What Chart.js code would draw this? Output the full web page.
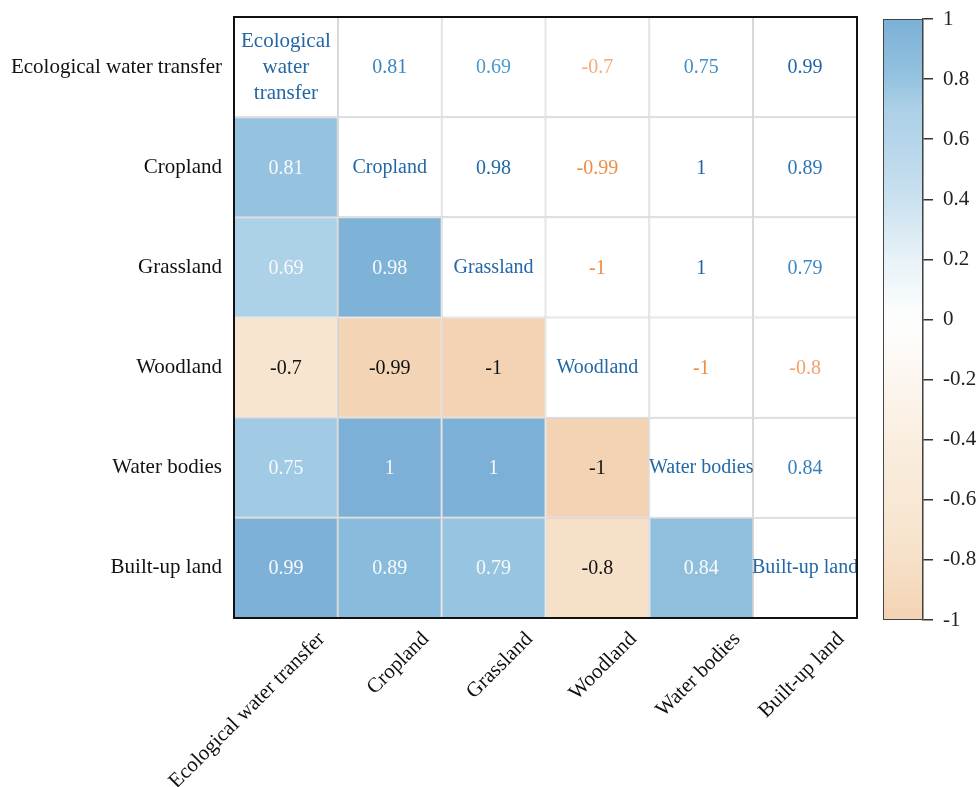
<!DOCTYPE html>
<html>
<head>
<meta charset="utf-8">
<script src="https://cdn.jsdelivr.net/npm/chart.js@4.4.1/dist/chart.umd.min.js"></script>
<style>
  html, body { margin: 0; padding: 0; background: #ffffff; }
  #wrap { position: relative; width: 978px; height: 787px; overflow: hidden; }
  #heat { position: absolute; left: 0; top: 0; }
  #bar { position: absolute; left: 860px; top: 0; }
</style>
</head>
<body>
<div id="wrap">
  <canvas id="heat" width="870" height="787"></canvas>
  <canvas id="bar" width="118" height="787"></canvas>
</div>
<script>
// Land-use categories (rows top to bottom, columns left to right)
const categories = ['Ecological water transfer', 'Cropland', 'Grassland', 'Woodland', 'Water bodies', 'Built-up land'];
// Names written on the diagonal, one entry per line
const diagonalLines = [['Ecological', 'water', 'transfer'], ['Cropland'], ['Grassland'], ['Woodland'], ['Water bodies'], ['Built-up land']];

// Correlation coefficients, one row per category
const rowEcoWater  = [1, 0.81, 0.69, -0.7, 0.75, 0.99];
const rowCropland  = [0.81, 1, 0.98, -0.99, 1, 0.89];
const rowGrassland = [0.69, 0.98, 1, -1, 1, 0.79];
const rowWoodland  = [-0.7, -0.99, -1, 1, -1, -0.8];
const rowWater     = [0.75, 1, 1, -1, 1, 0.84];
const rowBuiltUp   = [0.99, 0.89, 0.79, -0.8, 0.84, 1];
const matrix = [rowEcoWater, rowCropland, rowGrassland, rowWoodland, rowWater, rowBuiltUp];

// Colour bar tick values
const colorbarTicks = [-1, -0.8, -0.6, -0.4, -0.2, 0, 0.2, 0.4, 0.6, 0.8, 1];

// Diverging fill palette: orange for negative, blue for positive
const fillStops = [
  [-1, '#f3d3b3'], [-0.8, '#f6e0c8'], [-0.7, '#f7e5cf'], [-0.4, '#faeee0'], [-0.2, '#fcf6ef'],
  [0, '#fefefe'], [0.2, '#e8f2f8'], [0.4, '#cae1ef'], [0.6, '#b4d5ea'], [0.7, '#acd0e7'],
  [0.8, '#95c3e0'], [0.9, '#88badc'], [1, '#7cb0d6']
];
// Text palettes for the upper triangle
const blueTextStops = [[0.6, '#58a5d7'], [0.8, '#3a86c2'], [1, '#1f63a3']];
const orangeTextStops = [[-1, '#ee8c44'], [-0.8, '#f3a06a'], [-0.7, '#f5aa7b']];

function hexToRgb(h) {
  const n = parseInt(h.slice(1), 16);
  return [(n >> 16) & 255, (n >> 8) & 255, n & 255];
}
function interpolate(stops, v) {
  if (v <= stops[0][0]) return stops[0][1];
  if (v >= stops[stops.length - 1][0]) return stops[stops.length - 1][1];
  for (let k = 0; k < stops.length - 1; k++) {
    const [v0, c0] = stops[k], [v1, c1] = stops[k + 1];
    if (v >= v0 && v <= v1) {
      const t = (v - v0) / (v1 - v0);
      const a = hexToRgb(c0), b = hexToRgb(c1);
      const c = a.map((x, i) => Math.round(x + (b[i] - x) * t));
      return `rgb(${c[0]},${c[1]},${c[2]})`;
    }
  }
  return stops[0][1];
}

const SERIF = '"Liberation Serif", "Times New Roman", serif';
Chart.defaults.font.family = SERIF;
Chart.defaults.color = '#111111';

// Strip the automatic edge padding so the plot area sits exactly where the layout puts it
function noEdgePadding(scale) {
  scale.paddingTop = 0;
  scale.paddingBottom = 0;
  scale.paddingLeft = 0;
  scale.paddingRight = 0;
}

// One floating-bar dataset per row; each bar spans one row band on the y scale
const datasets = matrix.map((row, i) => ({
  label: categories[i],
  data: row.map(() => [i, i + 1]),
  backgroundColor: row.map((v, j) => (j < i ? interpolate(fillStops, v) : '#ffffff')),
  borderColor: '#c9c9c9',
  borderWidth: 1,
  borderSkipped: false,
  inflateAmount: 0,
  barPercentage: 1,
  categoryPercentage: 1,
  grouped: false
}));

// Writes the coefficient or the category name in each cell, then frames the plot
const cellText = {
  id: 'cellText',
  afterDatasetsDraw(chart) {
    const ctx = chart.ctx;
    ctx.save();
    ctx.textAlign = 'center';
    ctx.textBaseline = 'middle';
    chart.data.datasets.forEach((ds, i) => {
      chart.getDatasetMeta(i).data.forEach((el, j) => {
        const cx = el.x;
        const cy = (el.y + el.base) / 2;
        const v = matrix[i][j];
        if (i === j) {
          const lines = diagonalLines[i];
          const fs = lines.length > 1 ? 21 : 20;
          const lh = 26;
          ctx.font = `${fs}px ${SERIF}`;
          ctx.fillStyle = '#2467a6';
          lines.forEach((t, k) => ctx.fillText(t, cx, cy + (k - (lines.length - 1) / 2) * lh));
        } else {
          ctx.font = `20px ${SERIF}`;
          if (j < i) {
            ctx.fillStyle = v >= 0 ? '#f7fafc' : '#111111';
          } else {
            ctx.fillStyle = v >= 0 ? interpolate(blueTextStops, v) : interpolate(orangeTextStops, v);
          }
          ctx.fillText(String(v), cx, cy + 1);
        }
      });
    });
    const a = chart.chartArea;
    ctx.strokeStyle = '#111111';
    ctx.lineWidth = 2;
    ctx.strokeRect(a.left, a.top, a.right - a.left, a.bottom - a.top);
    ctx.restore();
  }
};

new Chart(document.getElementById('heat'), {
  type: 'bar',
  data: { labels: categories, datasets },
  options: {
    responsive: false,
    animation: false,
    devicePixelRatio: 1,
    events: [],
    layout: { padding: { left: 0, right: 13, top: 17, bottom: 0 } },
    plugins: { legend: { display: false }, tooltip: { enabled: false } },
    scales: {
      x: {
        type: 'category',
        offset: true,
        grid: { display: false, drawTicks: false },
        border: { display: false },
        ticks: {
          autoSkip: false,
          minRotation: 45,
          maxRotation: 45,
          labelOffset: 36,
          padding: 9,
          color: '#111111',
          font: { size: 21, family: SERIF }
        },
        afterFit(scale) { scale.height = 169; noEdgePadding(scale); }
      },
      y: {
        type: 'linear',
        min: 0,
        max: categories.length,
        reverse: true,
        grid: { display: false, drawTicks: false },
        border: { display: false },
        afterBuildTicks(scale) { scale.ticks = categories.map((c, i) => ({ value: i + 0.5 })); },
        ticks: {
          padding: 12,
          color: '#111111',
          font: { size: 21, family: SERIF },
          callback: (value, index) => categories[index]
        },
        afterFit(scale) { scale.width = 234; noEdgePadding(scale); }
      }
    }
  },
  plugins: [cellText]
});

// Colour bar: a single floating bar from -1 to 1 filled with the palette
new Chart(document.getElementById('bar'), {
  type: 'bar',
  data: {
    labels: [''],
    datasets: [{
      data: [[colorbarTicks[0], colorbarTicks[colorbarTicks.length - 1]]],
      backgroundColor(context) {
        const chart = context.chart;
        const ys = chart.scales.y;
        if (!chart.chartArea || !ys) return '#ffffff';
        const y0 = ys.getPixelForValue(-1), y1 = ys.getPixelForValue(1);
        const g = chart.ctx.createLinearGradient(0, y0, 0, y1);
        fillStops.forEach(([v, c]) => g.addColorStop((v + 1) / 2, c));
        return g;
      },
      borderColor: '#444444',
      borderWidth: 1,
      borderSkipped: false,
      inflateAmount: 0,
      barPercentage: 1,
      categoryPercentage: 1
    }]
  },
  options: {
    responsive: false,
    animation: false,
    devicePixelRatio: 1,
    events: [],
    layout: { padding: { left: 23, right: 0, top: 19, bottom: 167 } },
    plugins: { legend: { display: false }, tooltip: { enabled: false } },
    scales: {
      x: { display: false },
      y: {
        position: 'right',
        min: -1,
        max: 1,
        afterBuildTicks(scale) { scale.ticks = colorbarTicks.map(v => ({ value: v })); },
        grid: { display: true, drawOnChartArea: false, drawTicks: true, tickLength: 10, color: '#333333', lineWidth: 1.5 },
        border: { display: true, color: '#333333', width: 1.5 },
        ticks: {
          padding: 10,
          color: '#222222',
          font: { size: 21, family: SERIF },
          callback: v => String(v)
        },
        afterFit(scale) { scale.width = 55; noEdgePadding(scale); }
      }
    }
  }
});
</script>
</body>
</html>
